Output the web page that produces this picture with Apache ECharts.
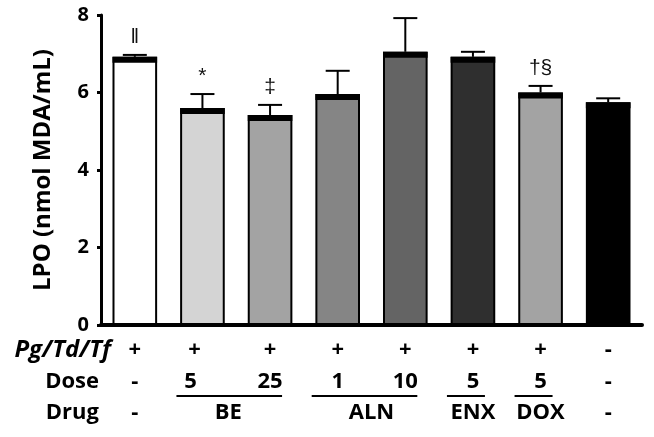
<!DOCTYPE html>
<html>
<head>
<meta charset="utf-8">
<script src="https://cdn.jsdelivr.net/npm/echarts@6/dist/echarts.min.js"></script>
<style>
    html, body { margin: 0; padding: 0; background: #fff; }
    #chart { width: 654px; height: 437px; }
</style>
</head>
<body>
<div id="chart"></div>
<script>
// values
const categories = ['Control', 'BE 5', 'BE 25', 'ALN 1', 'ALN 10', 'ENX 5', 'DOX 5', 'Uninfected']
const lpoMean = [6.92, 5.60, 5.42, 5.96, 7.05, 6.92, 6.00, 5.75]
const lpoErr = [0.05, 0.36, 0.26, 0.60, 0.87, 0.13, 0.17, 0.10]
const sigMarks = ['\u2016', '*', '\u2021', '', '', '', '\u2020\u00a7', '']
const yTicks = [0, 2, 4, 6, 8]

// table under the axis
const infectRow = ['+', '+', '+', '+', '+', '+', '+', '-']
const doseRow = ['-', '5', '25', '1', '10', '5', '5', '-']
const drugNames = ['-', 'BE', 'ALN', 'ENX', 'DOX', '-']
const drugFrom = [0, 1, 3, 5, 6, 7]
const drugTo = [0, 2, 4, 5, 6, 7]

const barColors = ['#ffffff', '#d4d4d4', '#a3a3a3', '#858585', '#646464', '#2f2f2f', '#a3a3a3', '#000000']
const tableFont = '"Open Sans", "Liberation Sans", sans-serif'

const chart = echarts.init(document.getElementById('chart'))

function renderErr(params, api) {
    const i = api.value(0)
    const m = api.value(1)
    const e = api.value(2)
    const base = api.coord([i, m])
    const top = api.coord([i, m + e])
    const bw = api.size([1, 0])[0] * 0.66
    const cx = base[0]
    return {
        type: 'group',
        children: [
            {type: 'line', shape: {x1: cx, y1: base[1], x2: cx, y2: top[1]}, style: {stroke: '#000', lineWidth: 2}},
            {type: 'line', shape: {x1: cx - 12, y1: top[1], x2: cx + 12, y2: top[1]}, style: {stroke: '#000', lineWidth: 2}},
            {type: 'rect', shape: {x: cx - bw / 2, y: base[1], width: bw, height: 6}, style: {fill: '#000'}},
            {
                type: 'text', x: cx, y: top[1] - 7,
                style: {
                    text: sigMarks[i], fill: '#111', align: 'center', verticalAlign: 'bottom',
                    font: '21px "Liberation Sans", "DejaVu Sans", sans-serif'
                }
            }
        ]
    }
}

let option = {
    animation: false,
    grid: {left: 101, right: 12, top: 15, bottom: 112},
    xAxis: {
        type: 'category',
        data: categories,
        axisLine: {lineStyle: {color: '#000', width: 4}},
        axisTick: {alignWithLabel: true, length: 9, lineStyle: {color: '#000', width: 2}},
        axisLabel: {show: false},
        splitLine: {show: false}
    },
    yAxis: {
        type: 'value',
        min: yTicks[0],
        max: yTicks[yTicks.length - 1],
        interval: 2,
        name: 'LPO (nmol MDA/mL)',
        nameLocation: 'middle',
        nameRotate: 90,
        nameGap: 46,
        nameTextStyle: {color: '#000', fontWeight: 'bold', fontSize: 24, fontFamily: tableFont},
        axisLine: {show: true, lineStyle: {color: '#000', width: 3}},
        axisTick: {show: true, length: 4, lineStyle: {color: '#000', width: 3}},
        axisLabel: {color: '#000', fontWeight: 'bold', fontSize: 20, fontFamily: tableFont, margin: 12},
        splitLine: {show: false}
    },
    series: [
        {
            type: 'bar',
            barWidth: '66%',
            data: lpoMean.map((v, i) => ({
                value: v,
                itemStyle: {color: barColors[i], borderColor: '#000', borderWidth: 2}
            }))
        },
        {
            type: 'custom',
            renderItem: renderErr,
            z: 5,
            data: lpoMean.map((v, i) => [i, v, lpoErr[i]])
        }
    ]
}

chart.setOption(option)

// table rows, placed on the category axis positions
const xs = categories.map((c, i) => chart.convertToPixel({xAxisIndex: 0}, i))
const rowY = [350, 382, 413]
const txt = (text, x, y, extra) => ({
    type: 'text', x: x, y: y,
    style: Object.assign({
        text: text, fill: '#000', align: 'center', verticalAlign: 'middle',
        font: 'bold 22px ' + tableFont
    }, extra || {})
})

let graphics = [
    txt('Pg/Td/Tf', 111, rowY[0], {align: 'right', font: 'italic bold 24px ' + tableFont}),
    txt('Dose', 99, rowY[1], {align: 'right'}),
    txt('Drug', 99, rowY[2], {align: 'right'})
]
infectRow.forEach((t, i) => graphics.push(txt(t, xs[i] - (i === 1 ? 8 : 0), rowY[0])))
doseRow.forEach((t, i) => graphics.push(txt(t, xs[i] - (i === 1 ? 12 : 0), rowY[1])))
drugNames.forEach((name, k) => {
    const x1 = xs[drugFrom[k]]
    const x2 = xs[drugTo[k]]
    graphics.push(txt(name, (x1 + x2) / 2 - (name === 'BE' ? 8 : 0), rowY[2]))
    if (name !== '-') {
        graphics.push({
            type: 'line',
            shape: {x1: x1 - 26, y1: 396, x2: x2 + 12, y2: 396},
            style: {stroke: '#000', lineWidth: 2}
        })
    }
})

chart.setOption({graphic: graphics})
</script>
</body>
</html>
